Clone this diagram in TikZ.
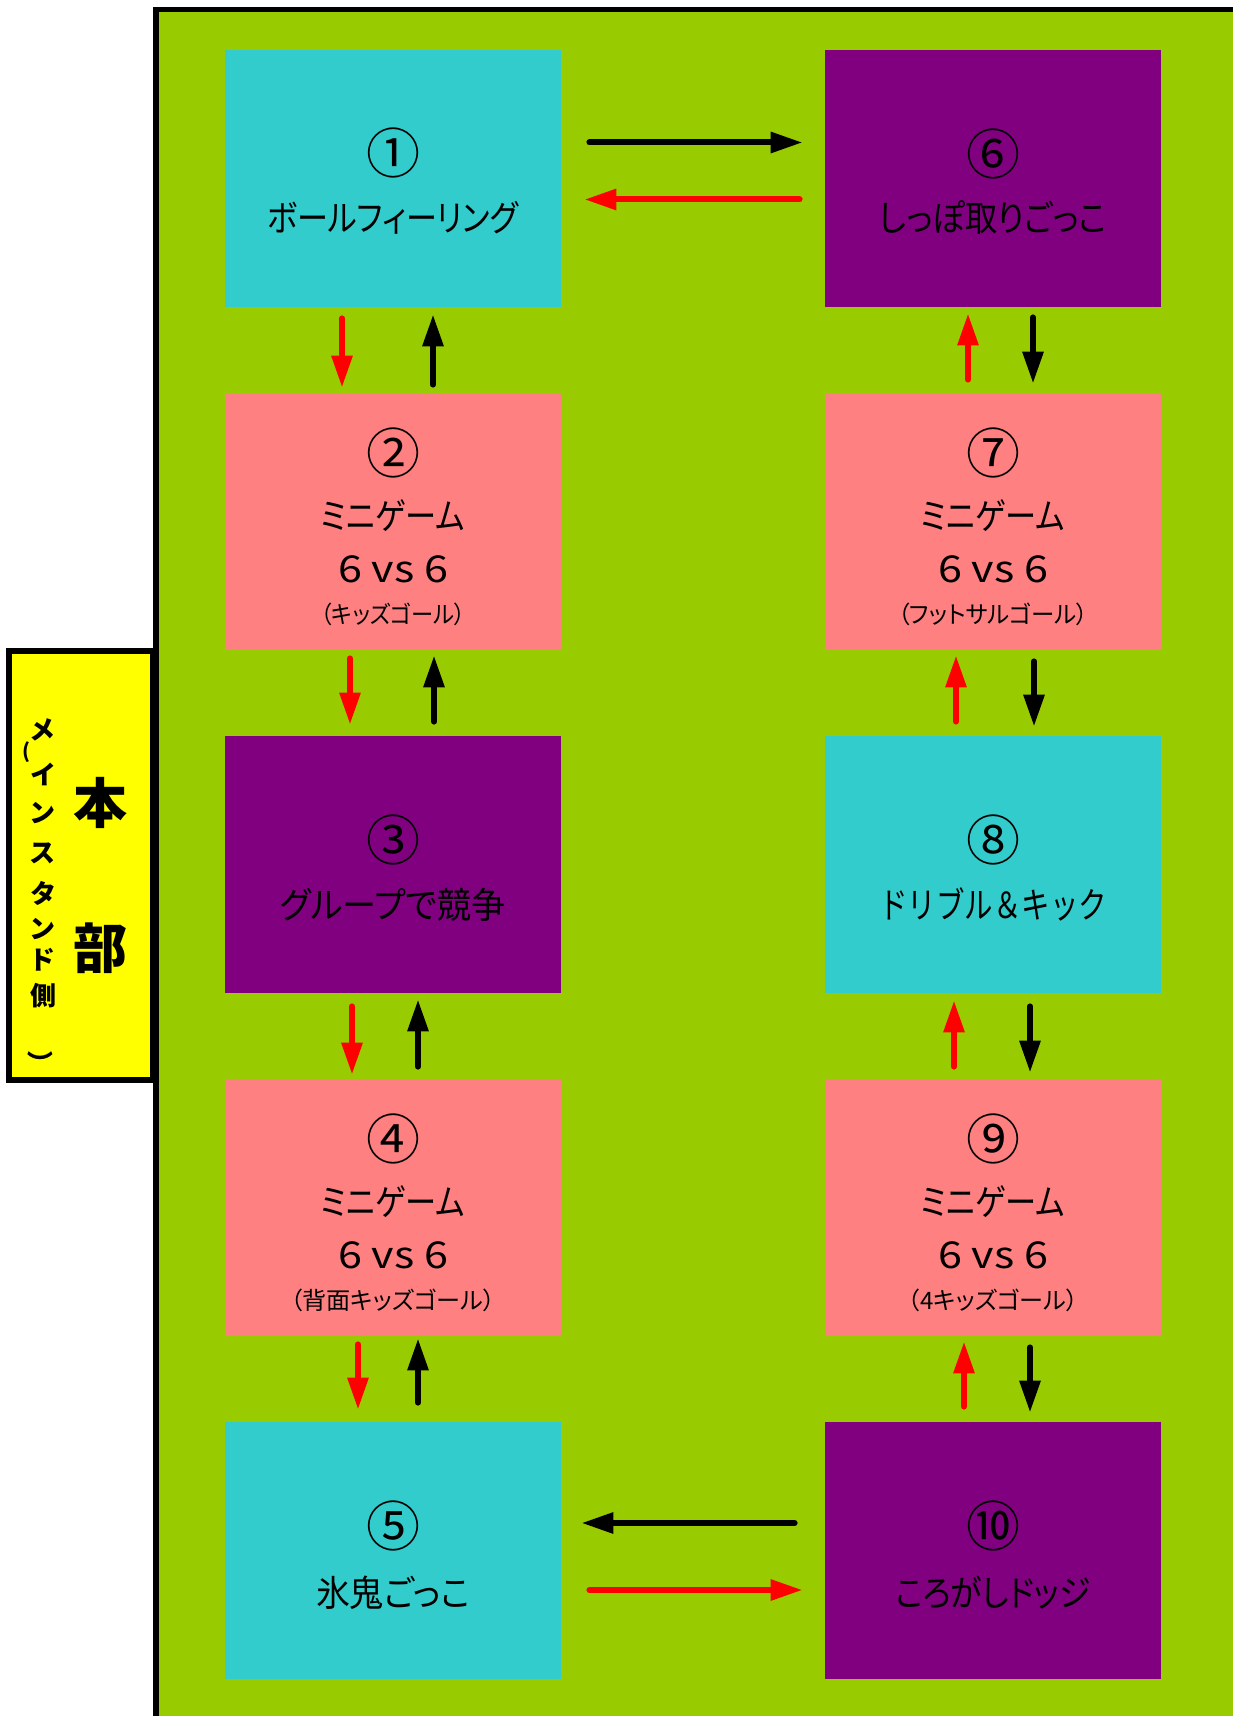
\documentclass[tikz,border=0pt]{standalone}
\usepackage{fontspec}
\setmainfont{Noto Sans CJK JP}[RawFeature=+palt]
\newfontfamily\jpfull{Noto Sans CJK JP}
\usetikzlibrary{arrows.meta,calc}
\definecolor{fieldg}{HTML}{99CC00}
\definecolor{cyanb}{HTML}{33CCCC}
\definecolor{purpb}{HTML}{800080}
\definecolor{pinkb}{HTML}{FF8080}
\definecolor{hqy}{HTML}{FFFF00}
\definecolor{arrred}{HTML}{FF0000}
\newcommand{\fitw}[2]{\resizebox{#1pt}{\height}{#2}}
\begin{document}
\begin{tikzpicture}[x=0.5pt,y=-0.5pt,
  box/.style={rectangle, minimum width=168pt, minimum height=128.5pt, inner sep=0pt, draw=none},
  num/.style={font=\fontsize{27pt}{27pt}\selectfont, inner sep=0pt},
  ttl/.style={font=\fontsize{18pt}{18pt}\selectfont, inner sep=0pt},
  vsl/.style={font=\fontsize{18.5pt}{18.5pt}\selectfont, inner sep=0pt},
  subl/.style={font=\fontsize{12pt}{12pt}\selectfont, inner sep=0pt},
  hqbig/.style={font=\fontsize{27pt}{27pt}\selectfont\bfseries, inner sep=0pt},
  hqsmall/.style={font=\fontsize{13pt}{13pt}\selectfont\bfseries, inner sep=0pt},
  arr/.style={line width=3pt, line cap=round, -{Triangle[length=16pt,width=10pt]}},
  blkarr/.style={arr, draw=black, fill=black},
  redarr/.style={arr, draw=arrred, fill=arrred}]
\useasboundingbox (0,0) rectangle (1232,1716);
\fill[white] (0,0) rectangle (1232,1716);
% field
\node[rectangle, draw=black, fill=fieldg, line width=2.75pt, inner sep=0pt,
      minimum width=543.5pt, minimum height=860pt, anchor=north west] (field) at (153,6.75) {};
% HQ box
\node[rectangle, draw=black, fill=hqy, line width=3pt, inner sep=0pt,
      minimum width=72pt, minimum height=214.5pt] (hq) at (81,865.5) {};
\node[hqbig] (hq1) at (100,803) {本};
\node[hqbig] (hq2) at (100,948) {部};
\node[hqsmall] (v1) at (43,730) {メ};
\node[hqsmall, font=\fontsize{10pt}{10pt}\selectfont\bfseries] (v2) at (26,752) {(};
\node[hqsmall] (v3) at (43,774) {イ};
\node[hqsmall] (v4) at (43,813) {ン};
\node[hqsmall] (v5) at (43,853) {ス};
\node[hqsmall] (v6) at (43,893) {タ};
\node[hqsmall] (v7) at (43,929) {ン};
\node[hqsmall] (v8) at (43,960) {ド};
\node[hqsmall] (v9) at (43,996) {側};
\node[hqsmall, rotate=-90] (v10) at (40,1058) {）};
% boxes
\node[box, fill=cyanb] (b1) at (393,178.5) {};
\node[box, fill=pinkb] (b2) at (393,521.5) {};
\node[box, fill=purpb] (b3) at (393,864.5) {};
\node[box, fill=pinkb] (b4) at (393,1207.5) {};
\node[box, fill=cyanb] (b5) at (393,1550.5) {};
\node[box, fill=purpb] (b6) at (993,178.5) {};
\node[box, fill=pinkb] (b7) at (993,521.5) {};
\node[box, fill=cyanb] (b8) at (993,864.5) {};
\node[box, fill=pinkb] (b9) at (993,1207.5) {};
\node[box, fill=purpb] (b10) at (993,1550.5) {};
% texts
\node[num] (n1) at ($(b1.north)+(0,103)$) {①};
\node[ttl] (t1) at ($(b1.north)+(0,168)$) {\fitw{125.5}{ボールフィーリング}};
\node[num] (n6) at ($(b6.north)+(0,104)$) {⑥};
\node[ttl] (t6) at ($(b6.north)+(0,168)$) {\fitw{113.5}{しっぽ取りごっこ}};
\node[num] (n3) at ($(b3.north)+(0,104)$) {③};
\node[ttl] (t3) at ($(b3.north)+(0,169)$) {\fitw{112.5}{グループで競争}};
\node[num] (n8) at ($(b8.north)+(0,104)$) {⑧};
\node[ttl] (t8) at ($(b8.north)+(0,169)$) {\fitw{114}{\jpfull ドリブル＆キック}};
\node[num] (n5) at ($(b5.north)+(0,104)$) {⑤};
\node[ttl] (t5) at ($(b5.north)+(0,171)$) {\fitw{77}{氷鬼ごっこ}};
\node[num] (n10) at ($(b10.north)+(0,104)$) {⑩};
\node[ttl] (t10) at ($(b10.north)+(0,171)$) {\fitw{97.5}{ころがしドッジ}};
\foreach \b/\n/\s/\w in {b2/②/（キッズゴール）/72.5, b7/⑦/（フットサルゴール）/95,
                         b4/④/（背面キッズゴール）/102.5, b9/⑨/（4キッズゴール）/85} {
  \node[num] (\b n) at ($(\b.north)+(0,60)$) {\n};
  \node[ttl] (\b a) at ($(\b.north)+(0,123)$) {\fitw{72}{ミニゲーム}};
  \node[vsl] (\b v) at ($(\b.north)+(0,177)$) {\fitw{55}{6 vs 6}};
  \node[subl] (\b s) at ($(\b.north)+(0,222)$) {\fitw{\w}{\s}};
}
% horizontal arrows
\draw[blkarr] ($(b1.east)+(28,-36)$) -- ($(b6.west)+(-22,-36)$);
\draw[redarr] ($(b6.west)+(-25,21)$) -- ($(b1.east)+(23,21)$);
\draw[blkarr] ($(b10.west)+(-30,-27.5)$) -- ($(b5.east)+(20,-27.5)$);
\draw[redarr] ($(b5.east)+(28,39.5)$) -- ($(b10.west)+(-22,39.5)$);
% left column
\draw[redarr] ($(b1.south)+(-51,11)$) -- ($(b2.north)+(-51,-5)$);
\draw[blkarr] ($(b2.north)+(40,-8)$) -- ($(b1.south)+(40,7)$);
\draw[redarr] ($(b2.south)+(-43,8)$) -- ($(b3.north)+(-43,-11)$);
\draw[blkarr] ($(b3.north)+(41,-14)$) -- ($(b2.south)+(41,5)$);
\draw[redarr] ($(b3.south)+(-41,13)$) -- ($(b4.north)+(-41,-4)$);
\draw[blkarr] ($(b4.north)+(25,-12)$) -- ($(b3.south)+(25,6)$);
\draw[redarr] ($(b4.south)+(-35,8)$) -- ($(b5.north)+(-35,-12)$);
\draw[blkarr] ($(b5.north)+(25,-19)$) -- ($(b4.south)+(25,2)$);
% right column
\draw[redarr] ($(b7.north)+(-25,-13)$) -- ($(b6.south)+(-25,6)$);
\draw[blkarr] ($(b6.south)+(40,10)$) -- ($(b7.north)+(40,-9)$);
\draw[redarr] ($(b8.north)+(-37,-14)$) -- ($(b7.south)+(-37,5)$);
\draw[blkarr] ($(b7.south)+(41,11)$) -- ($(b8.north)+(41,-9)$);
\draw[redarr] ($(b9.north)+(-39,-12)$) -- ($(b8.south)+(-39,7)$);
\draw[blkarr] ($(b8.south)+(37,13)$) -- ($(b9.north)+(37,-6)$);
\draw[redarr] ($(b10.north)+(-29,-15)$) -- ($(b9.south)+(-29,5)$);
\draw[blkarr] ($(b9.south)+(37,11)$) -- ($(b10.north)+(37,-9)$);
\end{tikzpicture}
\end{document}
